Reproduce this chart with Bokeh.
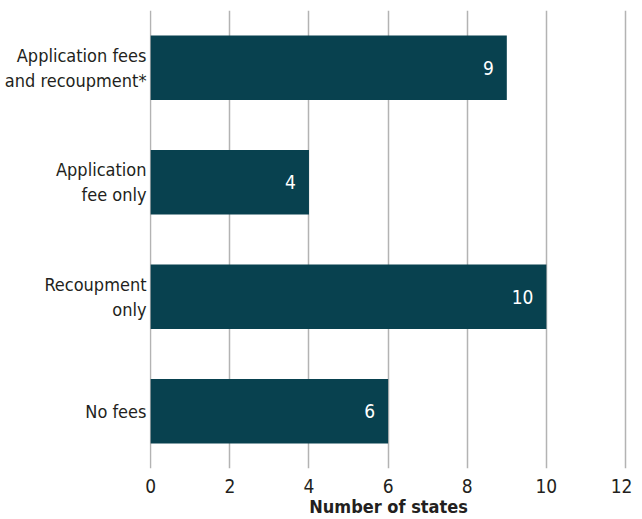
from bokeh.plotting import figure
from bokeh.models import ColumnDataSource, Range1d, FactorRange, FixedTicker
from bokeh.core.properties import value
from bokeh.embed import file_html
from bokeh.resources import INLINE

categories = ["Application fees\nand recoupment*", "Application\nfee only", "Recoupment\nonly", "No fees"]
counts = [9, 4, 10, 6]
labels = ["9", "4", "10", "6"]
x_ticks = [0, 2, 4, 6, 8, 10, 12]

FONT = "DejaVu Sans Condensed"
BAR = "#08414f"
TXT = "#231f20"

src = ColumnDataSource(dict(cat=categories, n=counts, lab=labels))

p = figure(width=632, height=519, output_backend="svg", toolbar_location=None,
           y_range=FactorRange(factors=list(reversed(categories))),
           x_range=Range1d(-0.03, 12.05),
           min_border_left=149, min_border_right=5, min_border_top=10, min_border_bottom=0)
p.outline_line_color = None
p.background_fill_color = "white"

p.hbar(y="cat", right="n", left=0, height=0.565, source=src, color=BAR, line_color=None)
p.text(x="n", y="cat", text="lab", source=src, text_color="white", text_align="right",
       text_baseline="middle", x_offset=-13, text_font=value(FONT), text_font_size="19px")

p.xgrid.ticker = FixedTicker(ticks=x_ticks)
p.xgrid.grid_line_color = "#b3b3b3"
p.xgrid.grid_line_width = 1.5
p.ygrid.grid_line_color = None

p.xaxis.ticker = FixedTicker(ticks=x_ticks)
p.xaxis.axis_line_color = None
p.xaxis.major_tick_line_color = None
p.xaxis.minor_tick_line_color = None
p.xaxis.major_tick_out = 0
p.xaxis.major_tick_in = 0
p.xaxis.major_label_standoff = 10
p.xaxis.major_label_text_font = FONT
p.xaxis.major_label_text_font_size = "19px"
p.xaxis.major_label_text_color = TXT
p.xaxis.axis_label = "Number of states"
p.xaxis.axis_label_text_font = FONT
p.xaxis.axis_label_text_font_size = "18px"
p.xaxis.axis_label_text_font_style = "bold"
p.xaxis.axis_label_text_color = TXT
p.xaxis.axis_label_standoff = 0

p.yaxis.axis_line_color = None
p.yaxis.major_tick_line_color = None
p.yaxis.minor_tick_line_color = None
p.yaxis.major_tick_out = 0
p.yaxis.major_tick_in = 0
p.yaxis.major_label_standoff = 3
p.yaxis.major_label_text_font = FONT
p.yaxis.major_label_text_font_size = "18px"
p.yaxis.major_label_text_color = TXT
p.yaxis.major_label_text_align = "right"

open("out.html", "w").write(file_html(p, INLINE))
